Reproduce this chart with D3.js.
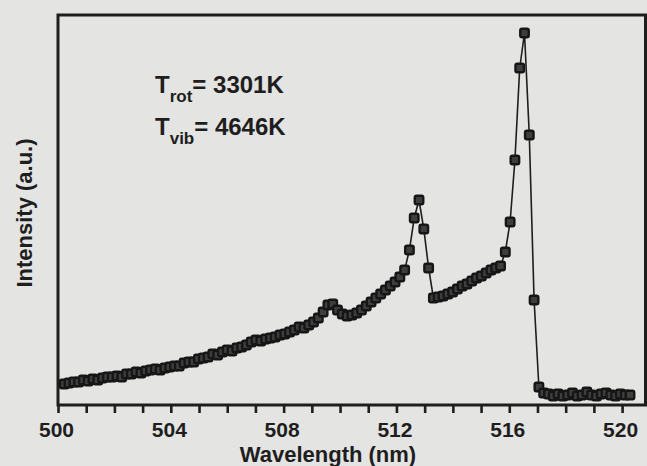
<!DOCTYPE html>
<html>

<head>
  <meta charset="utf-8" />
  <title>Emission spectrum</title>
  <script src="https://cdn.jsdelivr.net/npm/d3@7"></script>
  <style>
    body { margin: 0; background: #e4e4e2; }
    svg { display: block; }
    text { font-family: "Liberation Sans", Arial, Helvetica, sans-serif; font-weight: bold; fill: #1e1e1e; }
  </style>
</head>

<body>
  <svg id="chart" width="647" height="466"></svg>

  <script>
    // wavelength (nm) of each measured point
    var wavelength = [
      500.22, 500.39, 500.56, 500.73, 500.90, 501.07, 501.24, 501.41, 501.58, 501.75,
      501.92, 502.09, 502.26, 502.43, 502.60, 502.77, 502.94, 503.11, 503.28, 503.45,
      503.62, 503.79, 503.96, 504.13, 504.30, 504.47, 504.64, 504.81, 504.98, 505.15,
      505.32, 505.49, 505.66, 505.83, 506.00, 506.17, 506.34, 506.51, 506.68, 506.85,
      507.02, 507.19, 507.36, 507.53, 507.70, 507.87, 508.04, 508.21, 508.38, 508.55,
      508.72, 508.89, 509.06, 509.23, 509.40, 509.57, 509.74, 509.91, 510.08, 510.25,
      510.42, 510.59, 510.76, 510.93, 511.10, 511.27, 511.44, 511.61, 511.78, 511.95,
      512.12, 512.29, 512.46, 512.63, 512.80, 512.97, 513.14, 513.31, 513.48, 513.65,
      513.82, 513.99, 514.16, 514.33, 514.50, 514.67, 514.84, 515.01, 515.18, 515.35,
      515.52, 515.69, 515.86, 516.03, 516.20, 516.37, 516.54, 516.71, 516.88, 517.05,
      517.22, 517.39, 517.56, 517.73, 517.90, 518.07, 518.24, 518.41, 518.58, 518.75,
      518.92, 519.09, 519.26, 519.43, 519.60, 519.77, 519.94, 520.11, 520.28
    ]

    // intensity (a.u.)
    var intensity = [
      21, 22, 23, 23, 25, 24, 26, 25, 27, 28,
      28, 29, 28, 31, 31, 33, 32, 34, 35, 36,
      35, 37, 38, 39, 39, 42, 43, 43, 46, 47,
      48, 51, 50, 53, 55, 54, 57, 58, 60, 63,
      65, 64, 66, 67, 68, 70, 71, 73, 75, 78,
      77, 80, 83, 87, 93, 100, 101, 95, 91, 89,
      90, 92, 95, 99, 103, 107, 111, 115, 119, 123,
      128, 135, 155, 187, 205, 176, 137, 107, 108, 109,
      111, 113, 116, 119, 121, 124, 127, 129, 132, 135,
      137, 139, 153, 183, 245, 337, 372, 270, 105, 18,
      12, 11, 9, 11, 9, 10, 12, 9, 10, 13,
      10, 9, 11, 12, 10, 9, 11, 10, 10
    ]

    var xTicks = [500, 501, 502, 503, 504, 505, 506, 507, 508, 509, 510,
                  511, 512, 513, 514, 515, 516, 517, 518, 519, 520]
    var xTickLabels = [500, 504, 508, 512, 516, 520]

    var tLines = [
      { sym: 'T', sub: 'rot', val: '= 3301K' },
      { sym: 'T', sub: 'vib', val: '= 4646K' }
    ]

    // note: "top" is taken by window.top, so use plot* names
    var plotLeft = 58, plotRight = 645.5, plotTop = 15, plotBottom = 405
    var ink = '#1e1e1e'

    var svg = d3.select('#chart')

    var x = d3.scaleLinear().domain([500, 520.83]).range([plotLeft, plotRight])
    var y = d3.scaleLinear().domain([0, 390]).range([plotBottom, plotTop])

    var points = wavelength.map(function (w, i) { return [w, intensity[i]] })

    // x axis ticks, labels only every 4 nm
    var xAxis = d3.axisBottom(x)
      .tickValues(xTicks)
      .tickSize(8)
      .tickPadding(9)
      .tickFormat(function (d) { return xTickLabels.indexOf(d) >= 0 ? d : '' })

    var gx = svg.append('g')
      .attr('transform', 'translate(0,' + plotBottom + ')')
      .call(xAxis)
    gx.select('.domain').remove()
    gx.selectAll('.tick line').attr('stroke', ink).attr('stroke-width', 2.6)
    gx.selectAll('.tick text')
      .attr('fill', ink)
      .style('font-size', '21px')
      .attr('dx', '-2')

    // frame
    svg.append('rect')
      .attr('x', plotLeft)
      .attr('y', plotTop)
      .attr('width', plotRight - plotLeft)
      .attr('height', plotBottom - plotTop)
      .attr('fill', 'none')
      .attr('stroke', ink)
      .attr('stroke-width', 3)

    // spectrum line
    var line = d3.line()
      .x(function (d) { return x(d[0]) })
      .y(function (d) { return y(d[1]) })

    svg.append('path')
      .datum(points)
      .attr('fill', 'none')
      .attr('stroke', ink)
      .attr('stroke-width', 1.6)
      .attr('d', line)

    // square markers
    var m = 8.5
    svg.append('g')
      .selectAll('rect')
      .data(points)
      .enter()
      .append('rect')
      .attr('x', function (d) { return x(d[0]) - m / 2 })
      .attr('y', function (d) { return y(d[1]) - m / 2 })
      .attr('width', m)
      .attr('height', m)
      .attr('rx', 1.8)
      .attr('fill', '#3e3e3e')
      .attr('stroke', '#161616')
      .attr('stroke-width', 2.4)

    // axis titles
    svg.append('text')
      .attr('x', 328)
      .attr('y', 462)
      .attr('text-anchor', 'middle')
      .style('font-size', '22px')
      .text('Wavelength (nm)')

    svg.append('text')
      .attr('transform', 'translate(32,213) rotate(-90)')
      .attr('text-anchor', 'middle')
      .style('font-size', '22px')
      .text('Intensity (a.u.)')

    // temperatures
    var ann = svg.append('g')
      .selectAll('text')
      .data(tLines)
      .enter()
      .append('text')
      .attr('x', 155)
      .attr('y', function (d, i) { return 93 + i * 42 })
      .style('font-size', '24px')

    ann.append('tspan').text(function (d) { return d.sym })
    ann.append('tspan')
      .attr('dy', 9)
      .style('font-size', '17px')
      .text(function (d) { return d.sub })
    ann.append('tspan')
      .attr('dy', -9)
      .text(function (d) { return d.val })
  </script>

</body>

</html>
